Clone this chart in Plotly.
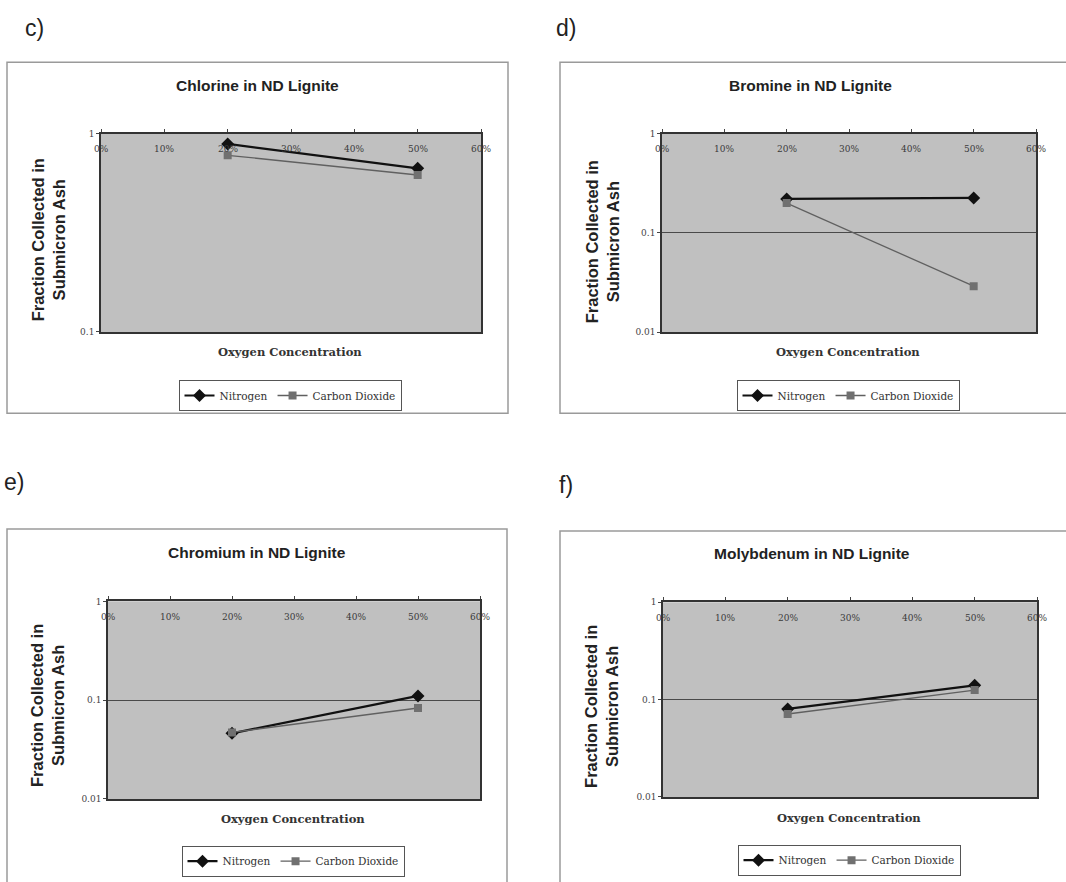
import plotly.graph_objects as go

W, H = 1066, 882

oxygen = [0.20, 0.50]
x_tickvals = [0, 0.1, 0.2, 0.3, 0.4, 0.5, 0.6]
x_ticktext = ["0%", "10%", "20%", "30%", "40%", "50%", "60%"]

panel_letters = ["c)", "d)", "e)", "f)"]
titles = ["Chlorine in ND Lignite", "Bromine in ND Lignite",
          "Chromium in ND Lignite", "Molybdenum in ND Lignite"]
nitrogen = [[0.89, 0.67], [0.22, 0.225], [0.046, 0.11], [0.080, 0.14]]
carbon_dioxide = [[0.78, 0.62], [0.20, 0.029], [0.047, 0.083], [0.071, 0.125]]
y_tickvals = [[0.1, 1], [0.01, 0.1, 1], [0.01, 0.1, 1], [0.01, 0.1, 1]]
y_ticktext = [["0.1", "1"], ["0.01", "0.1", "1"], ["0.01", "0.1", "1"], ["0.01", "0.1", "1"]]
y_ranges = [[-1, 0], [-2, 0], [-2, 0], [-2, 0]]
series_names = ["Nitrogen", "Carbon Dioxide"]
y_title = "Fraction Collected in<br>Submicron Ash"
x_title = "Oxygen Concentration"

# layout geometry in pixels
plot_boxes = [(101, 481, 130, 331), (662, 1036, 130, 331),
              (108, 480, 603, 803), (663, 1037, 604, 801)]
outer_boxes = [(7, 508, 58, 413), (560, 1075, 58, 413),
               (7, 507, 530, 895), (560, 1075, 532, 895)]
letter_pos = [(34, 23), (566, 23), (14, 482), (566, 485)]
title_pos = [(257, 81), (810, 81), (257, 554), (812, 555)]
ytitle_pos = [(48, 238), (602, 240), (48, 709), (602, 710)]
xtitle_pos = [(290, 351), (848, 351), (293, 823), (849, 822)]
legend_pos = [(290, 395), (848, 395), (293, 866), (849, 865)]


def px(x):
    return x / W


def py(y):
    return 1 - y / H


fig = go.Figure()
serif = "DejaVu Serif"
sans = "Liberation Sans"

for i in range(4):
    n = "" if i == 0 else str(i + 1)
    x0, x1, y0, y1 = plot_boxes[i]
    leg = "legend" if i == 0 else f"legend{i + 1}"
    fig.add_trace(go.Scatter(
        x=oxygen, y=nitrogen[i], name=series_names[0], mode="lines+markers",
        line=dict(color="#111111", width=2.2),
        marker=dict(symbol="diamond", size=10, color="#111111"),
        xaxis="x" + n, yaxis="y" + n, legend=leg))
    fig.add_trace(go.Scatter(
        x=oxygen, y=carbon_dioxide[i], name=series_names[1], mode="lines+markers",
        line=dict(color="#606060", width=1.3),
        marker=dict(symbol="square", size=8, color="#707070"),
        xaxis="x" + n, yaxis="y" + n, legend=leg))

    lo, hi = y_ranges[i]
    fig.layout["xaxis" + n] = dict(
        domain=[px(x0), px(x1)], anchor="y" + n, range=[0, 0.6],
        side="top", showticklabels=False, tickvals=x_tickvals,
        ticks="outside", ticklen=3, tickcolor="#444444",
        showline=True, linecolor="#333333", linewidth=1.5, mirror=True,
        showgrid=False, zeroline=False, fixedrange=True)
    fig.layout["yaxis" + n] = dict(
        domain=[py(y1), py(y0)], anchor="x" + n, type="log",
        range=[lo - 0.002, hi + 0.002],
        tickvals=y_tickvals[i], ticktext=y_ticktext[i],
        tickfont=dict(family=serif, size=9, color="#444444"),
        ticks="outside", ticklen=3, tickcolor="#444444",
        showline=True, linecolor="#333333", linewidth=1.5, mirror=True,
        showgrid=True, gridcolor="#4a4a4a", gridwidth=1,
        zeroline=False, fixedrange=True)

    # x tick labels drawn just below the top axis line (Excel style)
    for tv, tt in zip(x_tickvals, x_ticktext):
        fig.add_annotation(text=tt, x=tv, xref="x" + n, y=py(y0 + 16), yref="paper",
                           xanchor="center", yanchor="middle", showarrow=False,
                           font=dict(family=serif, size=9, color="#3a3a3a"))

    # plot-area background
    fig.add_shape(type="rect", xref="paper", yref="paper",
                  x0=px(x0), x1=px(x1), y0=py(y1), y1=py(y0),
                  fillcolor="#c0c0c0", line=dict(width=0), layer="below")
    # outer chart box
    ox0, ox1, oy0, oy1 = outer_boxes[i]
    fig.add_shape(type="rect", xref="paper", yref="paper",
                  x0=px(ox0), x1=px(ox1), y0=py(oy1), y1=py(oy0),
                  line=dict(color="#9a9a9a", width=1.5), layer="below")

    lx, ly = letter_pos[i]
    fig.add_annotation(text=panel_letters[i], x=px(lx), y=py(ly), xref="paper", yref="paper",
                       xanchor="center", yanchor="middle",
                       showarrow=False, font=dict(family=sans, size=23, color="#222222"))
    tx, ty = title_pos[i]
    fig.add_annotation(text="<b>" + titles[i] + "</b>", x=px(tx), y=py(ty), xref="paper", yref="paper",
                       xanchor="center", yanchor="middle",
                       showarrow=False, font=dict(family=sans, size=15.5, color="#222222"))
    yx, yy = ytitle_pos[i]
    fig.add_annotation(text="<b>" + y_title + "</b>", x=px(yx), y=py(yy), xref="paper", yref="paper",
                       xanchor="center", yanchor="middle",
                       showarrow=False, textangle=-90,
                       font=dict(family=sans, size=16.5, color="#222222"))
    xx, xy = xtitle_pos[i]
    fig.add_annotation(text="<b>" + x_title + "</b>", x=px(xx), y=py(xy), xref="paper", yref="paper",
                       xanchor="center", yanchor="middle",
                       showarrow=False, font=dict(family=serif, size=11.5, color="#333333"))
    lgx, lgy = legend_pos[i]
    fig.layout[leg] = dict(
        x=px(lgx), y=py(lgy), xanchor="center", yanchor="middle",
        orientation="h", bgcolor="white", bordercolor="#555555", borderwidth=1,
        font=dict(family=serif, size=10.5, color="#333333"),
        itemwidth=30, tracegroupgap=0)

fig.update_layout(width=W, height=H, margin=dict(l=0, r=0, t=0, b=0),
                  paper_bgcolor="white", plot_bgcolor="rgba(0,0,0,0)",
                  showlegend=True)

fig.write_html("out.html", config={"displayModeBar": False},
               post_script="document.body.style.margin='0px';")
